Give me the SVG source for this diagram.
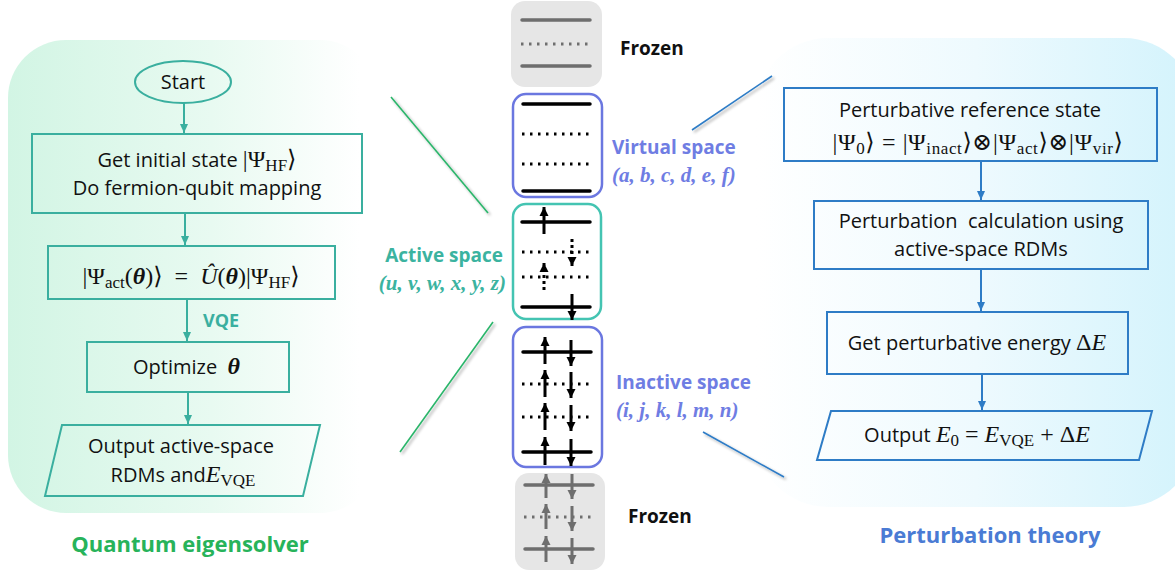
<svg xmlns="http://www.w3.org/2000/svg" width="1175" height="577" viewBox="0 0 1175 577">
<defs>
<linearGradient id="gLeft" x1="0" y1="0" x2="1" y2="0">
<stop offset="0" stop-color="#d2f5e4"/>
<stop offset="0.55" stop-color="#e8faf1"/>
<stop offset="0.95" stop-color="#ffffff"/>
</linearGradient>
<linearGradient id="gRight" x1="0" y1="0" x2="1" y2="0">
<stop offset="0" stop-color="#ffffff"/>
<stop offset="0.5" stop-color="#eefafe"/>
<stop offset="1" stop-color="#d3f3fc"/>
</linearGradient>
<filter id="sh" x="-20%" y="-20%" width="140%" height="140%">
<feGaussianBlur in="SourceAlpha" stdDeviation="1.5"/>
<feOffset dx="2" dy="2" result="b"/>
<feComponentTransfer><feFuncA type="linear" slope="0.35"/></feComponentTransfer>
<feMerge><feMergeNode/><feMergeNode in="SourceGraphic"/></feMerge>
</filter>
<marker id="aTeal" markerUnits="userSpaceOnUse" markerWidth="10" markerHeight="10" refX="9" refY="5" orient="auto"><path d="M0,1 L9,5 L0,9 z" fill="#3aaf9f"/></marker>
<marker id="aBlue" markerUnits="userSpaceOnUse" markerWidth="10" markerHeight="10" refX="9" refY="5" orient="auto"><path d="M0,1 L9,5 L0,9 z" fill="#2e7cc6"/></marker>
<marker id="aBlk" markerUnits="userSpaceOnUse" markerWidth="10" markerHeight="10" refX="9" refY="5" orient="auto"><path d="M0,0.5 L9,5 L0,9.5 z" fill="#000"/></marker>
<marker id="aGry" markerUnits="userSpaceOnUse" markerWidth="10" markerHeight="10" refX="9" refY="5" orient="auto"><path d="M0,0.5 L9,5 L0,9.5 z" fill="#6e6e6e"/></marker>
</defs>
<style>
.t{font-family:"Open Sans","Noto Sans",sans-serif;font-size:20px;fill:#111}
.m{font-family:"Liberation Serif","DejaVu Serif",serif;font-size:24px;fill:#111}
.mi{font-style:italic}
.sub{font-size:17px}
.lbox{fill:none;stroke:#3aaf9f;stroke-width:2}
.rbox{fill:none;stroke:#2e7cc6;stroke-width:2}
.lc{stroke:#3aaf9f;stroke-width:2;fill:none;marker-end:url(#aTeal)}
.rc{stroke:#2e7cc6;stroke-width:2;fill:none;marker-end:url(#aBlue)}
.solid{stroke:#000;stroke-width:3.5;stroke-linecap:round}
.dot{stroke:#000;stroke-width:3;stroke-dasharray:2.5 5.5;stroke-linecap:butt}
.gsolid{stroke:#6e6e6e;stroke-width:3.5;stroke-linecap:round}
.gdot{stroke:#6e6e6e;stroke-width:3;stroke-dasharray:2.5 5.5}
.up{stroke:#000;stroke-width:3;marker-end:url(#aBlk)}
.dup{stroke:#000;stroke-width:3;stroke-dasharray:3 3;marker-end:url(#aBlk)}
.gup{stroke:#6e6e6e;stroke-width:3;marker-end:url(#aGry)}
.lab{font-family:"Open Sans","Noto Sans",sans-serif;font-weight:bold;font-size:19px}
.ttl{font-family:"Open Sans","Noto Sans",sans-serif;font-weight:bold;font-size:22px}
.ml{font-family:"Liberation Serif","DejaVu Serif",serif;font-weight:bold;font-style:italic;font-size:21px}
</style>

<!-- panels -->
<rect id="leftPanel" x="8" y="40" width="370" height="473" rx="58" fill="url(#gLeft)"/>
<rect id="rightPanel" x="756" y="38" width="440" height="469" rx="72" fill="url(#gRight)"/>

<!-- connectors -->
<g id="connectors">
<line class="lc" x1="184" y1="103" x2="184" y2="133"/>
<line class="lc" x1="185" y1="213" x2="185" y2="245"/>
<line class="lc" x1="187" y1="300" x2="187" y2="341"/>
<line class="lc" x1="188" y1="392" x2="188" y2="424"/>
<line class="rc" x1="981" y1="161" x2="981" y2="200"/>
<line class="rc" x1="981" y1="269" x2="981" y2="311"/>
<line class="rc" x1="982" y1="374" x2="982" y2="410"/>
<g filter="url(#sh)">
<line x1="391" y1="97" x2="488" y2="213" stroke="#2bb56a" stroke-width="1.6"/>
<line x1="400" y1="452" x2="493" y2="322" stroke="#2bb56a" stroke-width="1.6"/>
<line x1="692" y1="130" x2="772" y2="76" stroke="#2e7cc6" stroke-width="1.6"/>
<line x1="703" y1="432" x2="784" y2="477" stroke="#2e7cc6" stroke-width="1.6"/>
</g>
</g>

<!-- left flowchart -->
<g id="start">
<ellipse cx="183" cy="82" rx="48" ry="21" fill="none" stroke="#3aaf9f" stroke-width="2"/>
<text class="t" x="183" y="89" text-anchor="middle">Start</text>
</g>
<g id="initState">
<rect class="lbox" x="32" y="134" width="330" height="79"/>
<text class="t" x="197" y="167" text-anchor="middle">Get initial state <tspan class="m">|Ψ</tspan><tspan class="m sub" dy="4">HF</tspan><tspan class="m" dy="-4">⟩</tspan></text>
<text class="t" x="197" y="195" text-anchor="middle">Do fermion-qubit mapping</text>
</g>
<g id="ansatz">
<rect class="lbox" x="48" y="246" width="287" height="53"/>
<text class="m" x="191" y="284" text-anchor="middle" xml:space="preserve">|Ψ<tspan class="sub" dy="4">act</tspan><tspan dy="-4">(</tspan><tspan font-weight="bold" font-style="italic">θ</tspan>)⟩  =  <tspan font-style="italic">Û</tspan>(<tspan font-weight="bold" font-style="italic">θ</tspan>)|Ψ<tspan class="sub" dy="4">HF</tspan><tspan dy="-4">⟩</tspan></text>
</g>
<text id="vqe" class="lab" x="203" y="327" fill="#3aaf9f" style="font-size:18px">VQE</text>
<g id="optimize">
<rect class="lbox" x="87" y="342" width="202" height="50"/>
<text class="t" x="133" y="374" xml:space="preserve">Optimize  <tspan class="m" font-weight="bold" font-style="italic">θ</tspan></text>
</g>
<g id="outputLeft">
<polygon class="lbox" points="62,425 320,425 303,496 45,496"/>
<text class="t" x="181" y="453" text-anchor="middle">Output active-space</text>
<text class="t" x="183" y="482" text-anchor="middle">RDMs and<tspan class="m mi">E</tspan><tspan class="m sub" dy="4">VQE</tspan></text>
</g>
<text id="titleLeft" class="ttl" x="190" y="552" text-anchor="middle" fill="#27b35a">Quantum eigensolver</text>

<!-- middle orbital column -->
<g id="frozenTop">
<rect x="511" y="1" width="91" height="86" rx="14" fill="#e6e6e6"/>
<line class="gsolid" x1="522" y1="20" x2="590" y2="20"/>
<line class="gdot" x1="521" y1="44" x2="590" y2="44" stroke-width="2"/>
<line class="gsolid" x1="522" y1="66" x2="590" y2="66"/>
<text class="lab" x="620" y="55" fill="#111">Frozen</text>
</g>
<g id="virtual">
<rect x="513" y="94" width="89" height="103" rx="13" fill="#fff" stroke="#6b77e0" stroke-width="2.5"/>
<line class="solid" x1="523" y1="104" x2="590" y2="104"/>
<line class="dot" x1="522" y1="134" x2="590" y2="134"/>
<line class="dot" x1="522" y1="164" x2="590" y2="164"/>
<line class="solid" x1="523" y1="191" x2="590" y2="191"/>
<text class="lab" x="612" y="154" fill="#6f7de3">Virtual space</text>
<text class="ml" x="612" y="182" fill="#6f7de3">(a, b, c, d, e, f)</text>
</g>
<g id="active">
<rect x="513" y="204" width="88" height="115" rx="13" fill="#fff" stroke="#44c4b2" stroke-width="2.5"/>
<line class="solid" x1="522" y1="222" x2="590" y2="222"/>
<line class="dot" x1="522" y1="252" x2="590" y2="252"/>
<line class="dot" x1="522" y1="277" x2="590" y2="277"/>
<line class="solid" x1="522" y1="307" x2="590" y2="307"/>
<line class="up" x1="544" y1="234" x2="544" y2="207"/>
<line class="dup" x1="572" y1="239" x2="572" y2="266"/>
<line class="dup" x1="544" y1="290" x2="544" y2="263"/>
<line class="up" x1="572" y1="294" x2="572" y2="320"/>
<text class="lab" x="503" y="262" text-anchor="end" fill="#3bb3a0">Active space</text>
<text class="ml" x="506" y="290" text-anchor="end" fill="#3bb3a0">(u, v, w, x, y, z)</text>
</g>
<g id="inactive">
<rect x="513" y="327" width="89" height="140" rx="13" fill="#fff" stroke="#6b77e0" stroke-width="2.5"/>
<line class="solid" x1="523" y1="352" x2="591" y2="352"/>
<line class="dot" x1="522" y1="384" x2="591" y2="384"/>
<line class="dot" x1="522" y1="417" x2="591" y2="417"/>
<line class="solid" x1="523" y1="452" x2="591" y2="452"/>
<line class="up" x1="545" y1="364" x2="545" y2="337"/>
<line class="up" x1="571" y1="340" x2="571" y2="366"/>
<line class="up" x1="545" y1="397" x2="545" y2="370"/>
<line class="up" x1="571" y1="372" x2="571" y2="398"/>
<line class="up" x1="545" y1="430" x2="545" y2="403"/>
<line class="up" x1="571" y1="405" x2="571" y2="431"/>
<line class="up" x1="545" y1="465" x2="545" y2="437"/>
<line class="up" x1="571" y1="439" x2="571" y2="466"/>
<text class="lab" x="616" y="389" fill="#6f7de3">Inactive space</text>
<text class="ml" x="616" y="417" fill="#6f7de3">(i, j, k, l, m, n)</text>
</g>
<g id="frozenBottom">
<rect x="515" y="473" width="90" height="97" rx="14" fill="#e6e6e6"/>
<line class="gsolid" x1="525" y1="485" x2="593" y2="485"/>
<line class="gdot" x1="524" y1="517" x2="593" y2="517" stroke-width="2"/>
<line class="gsolid" x1="525" y1="549" x2="593" y2="549"/>
<line class="gup" x1="546" y1="498" x2="546" y2="474"/>
<line class="gup" x1="572" y1="474" x2="572" y2="499"/>
<line class="gup" x1="546" y1="529" x2="546" y2="504"/>
<line class="gup" x1="572" y1="506" x2="572" y2="531"/>
<line class="gup" x1="546" y1="562" x2="546" y2="536"/>
<line class="gup" x1="572" y1="538" x2="572" y2="564"/>
<text class="lab" x="628" y="523" fill="#111">Frozen</text>
</g>

<!-- right flowchart -->
<g id="refState">
<rect class="rbox" x="784" y="88" width="373" height="73"/>
<text class="t" x="970" y="117" text-anchor="middle">Perturbative reference state</text>
<text class="m" x="978" y="150" text-anchor="middle" letter-spacing="0.6" xml:space="preserve">|Ψ<tspan class="sub" dy="4">0</tspan><tspan dy="-4">⟩ = |Ψ</tspan><tspan class="sub" dy="4">inact</tspan><tspan dy="-4">⟩⊗|Ψ</tspan><tspan class="sub" dy="4">act</tspan><tspan dy="-4">⟩⊗|Ψ</tspan><tspan class="sub" dy="4">vir</tspan><tspan dy="-4">⟩</tspan></text>
</g>
<g id="ptCalc">
<rect class="rbox" x="814" y="201" width="334" height="68"/>
<text class="t" x="981" y="228" text-anchor="middle" xml:space="preserve">Perturbation  calculation using</text>
<text class="t" x="981" y="256" text-anchor="middle">active-space RDMs</text>
</g>
<g id="ptEnergy">
<rect class="rbox" x="827" y="312" width="301" height="62"/>
<text class="t" x="977" y="350" text-anchor="middle">Get perturbative energy <tspan class="m">Δ</tspan><tspan class="m mi">E</tspan></text>
</g>
<g id="outputRight">
<polygon class="rbox" points="831,411 1152,411 1139,460 817,460"/>
<text class="t" x="977" y="442" text-anchor="middle" xml:space="preserve">Output <tspan class="m mi">E</tspan><tspan class="m sub" dy="4">0</tspan><tspan class="m" dy="-4"> = </tspan><tspan class="m mi">E</tspan><tspan class="m sub" dy="4">VQE</tspan><tspan class="m" dy="-4"> + Δ</tspan><tspan class="m mi">E</tspan></text>
</g>
<text id="titleRight" class="ttl" x="990" y="543" text-anchor="middle" fill="#4a7bd4">Perturbation theory</text>
</svg>
